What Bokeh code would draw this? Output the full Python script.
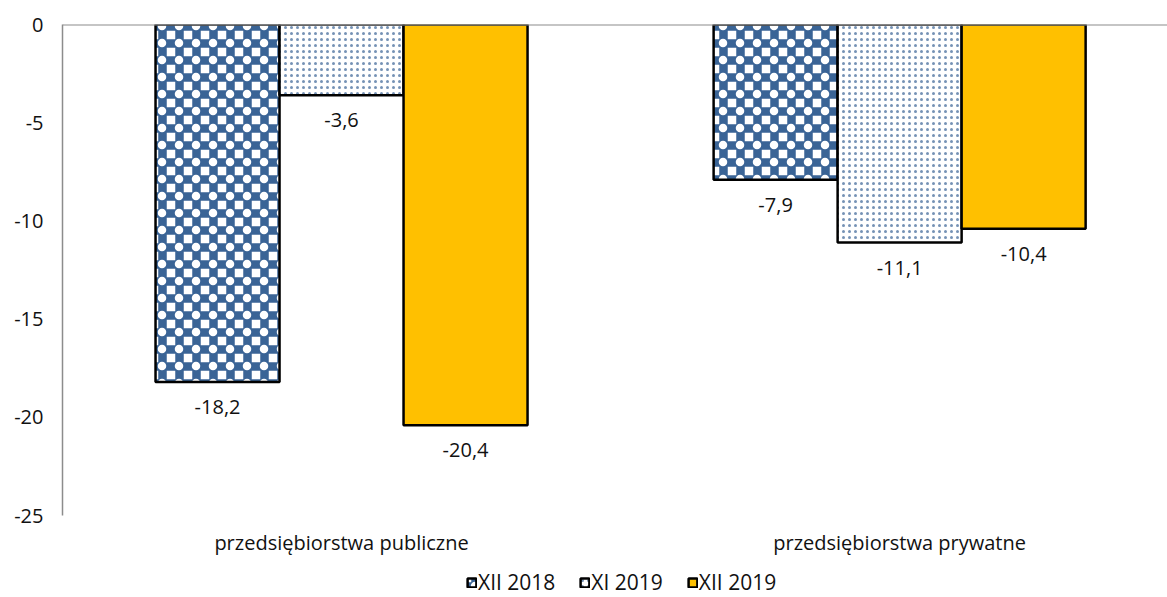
from bokeh.plotting import figure
from bokeh.models import (ColumnDataSource, Range1d, FixedTicker, Span, Legend,
                          LegendItem)
from bokeh.transform import dodge
from bokeh.embed import file_html
from bokeh.resources import INLINE
from bokeh.core.properties import value

# --- data -------------------------------------------------------------
categories = ["przedsiębiorstwa publiczne", "przedsiębiorstwa prywatne"]
series_names = ["XII 2018", "XI 2019", "XII 2019"]
xii_2018 = [-18.2, -7.9]
xi_2019 = [-3.6, -11.1]
xii_2019 = [-20.4, -10.4]
y_ticks = [0, -5, -10, -15, -20, -25]

FONT = "Open Sans"
FS = "20px"
BLUE = "#3a6496"
GOLD = "#ffc000"
TEXT = "#111111"

y_min, y_max = min(y_ticks), max(y_ticks)
cat_pos = [i + 0.5 for i in range(len(categories))]

def fmt(v):
    return f"{v:.1f}".replace(".", ",")

source = ColumnDataSource(data=dict(
    x=cat_pos,
    s0=xii_2018, s1=xi_2019, s2=xii_2019,
    l0=[fmt(v) for v in xii_2018],
    l1=[fmt(v) for v in xi_2019],
    l2=[fmt(v) for v in xii_2019],
))
cat_source = ColumnDataSource(data=dict(x=cat_pos, y=[y_min] * len(cat_pos),
                                        name=categories))

# the frame runs to the bottom edge so the category labels and the legend
# sit inside it, below the value axis' lower bound
p = figure(width=1167, height=597, output_backend="svg", toolbar_location=None,
           x_range=Range1d(0.0, 1.98), y_range=Range1d(-29.17, y_max),
           min_border_left=62, min_border_right=0, min_border_top=24,
           min_border_bottom=0)
p.outline_line_color = None
p.grid.visible = False
p.background_fill_color = "white"
p.xaxis.visible = False

bar_w = 0.2222
offsets = [-bar_w, 0.0, bar_w]
CELL = 8.5  # checker cell size in px

# each series is built from layered fills, topped by a black outline
layers = [
    [  # checkerboard: thick blue cross hatch, centre of each cross knocked out
        dict(fill_color="white", hatch_pattern="cross", hatch_color=BLUE,
             hatch_scale=2 * CELL, hatch_weight=CELL),
        dict(fill_alpha=0, hatch_pattern="dot", hatch_color="white",
             hatch_scale=2 * CELL, hatch_weight=10),
    ],
    [  # fine blue dots on white
        dict(fill_color="white", hatch_pattern="dot", hatch_color=BLUE,
             hatch_scale=6, hatch_weight=0.3, hatch_alpha=0.7),
    ],
    [dict(fill_color=GOLD)],
]

legend_items = []
for k, (off, fills) in enumerate(zip(offsets, layers)):
    xs = dodge("x", off, range=p.x_range)
    rs = []
    for st in fills:
        rs.append(p.vbar(x=xs, top=f"s{k}", bottom=0, width=bar_w,
                         source=source, line_color=None, **st))
    rs.append(p.vbar(x=xs, top=f"s{k}", bottom=0, width=bar_w, source=source,
                     fill_alpha=0, line_color="black", line_width=2.5))
    legend_items.append(LegendItem(label=series_names[k], renderers=rs))
    p.text(x=xs, y=f"s{k}", text=f"l{k}", source=source, text_align="center",
           text_baseline="middle", y_offset=25, text_font=value(FONT),
           text_font_size=FS, text_color=TEXT)

# category labels under the value axis' lower bound
p.text(x="x", y="y", text="name", source=cat_source, text_align="center",
       text_baseline="middle", y_offset=27, text_font=value(FONT),
       text_font_size=FS, text_color=TEXT)

# zero line
p.add_layout(Span(location=0, dimension="width", line_color="#8c8c8c",
                  line_width=2))

# value axis
p.yaxis.bounds = (y_min, y_max)
p.yaxis.ticker = FixedTicker(ticks=y_ticks)
p.yaxis.major_label_overrides = {t: str(t) for t in y_ticks}
p.yaxis.axis_line_color = "#8c8c8c"
p.yaxis.axis_line_width = 1.5
p.yaxis.major_tick_line_color = None
p.yaxis.minor_tick_line_color = None
p.yaxis.major_label_standoff = 13
p.yaxis.major_label_text_font = FONT
p.yaxis.major_label_text_font_size = FS
p.yaxis.major_label_text_color = TEXT

legend = Legend(items=legend_items, location=(404, 1), orientation="horizontal",
                glyph_width=11, glyph_height=11, label_standoff=1, spacing=24,
                padding=0, margin=0, border_line_color=None,
                background_fill_alpha=0, label_text_font=FONT,
                label_text_font_size="21px", label_text_color=TEXT)
p.add_layout(legend, "center")

open("out.html", "w").write(file_html(p, INLINE))
